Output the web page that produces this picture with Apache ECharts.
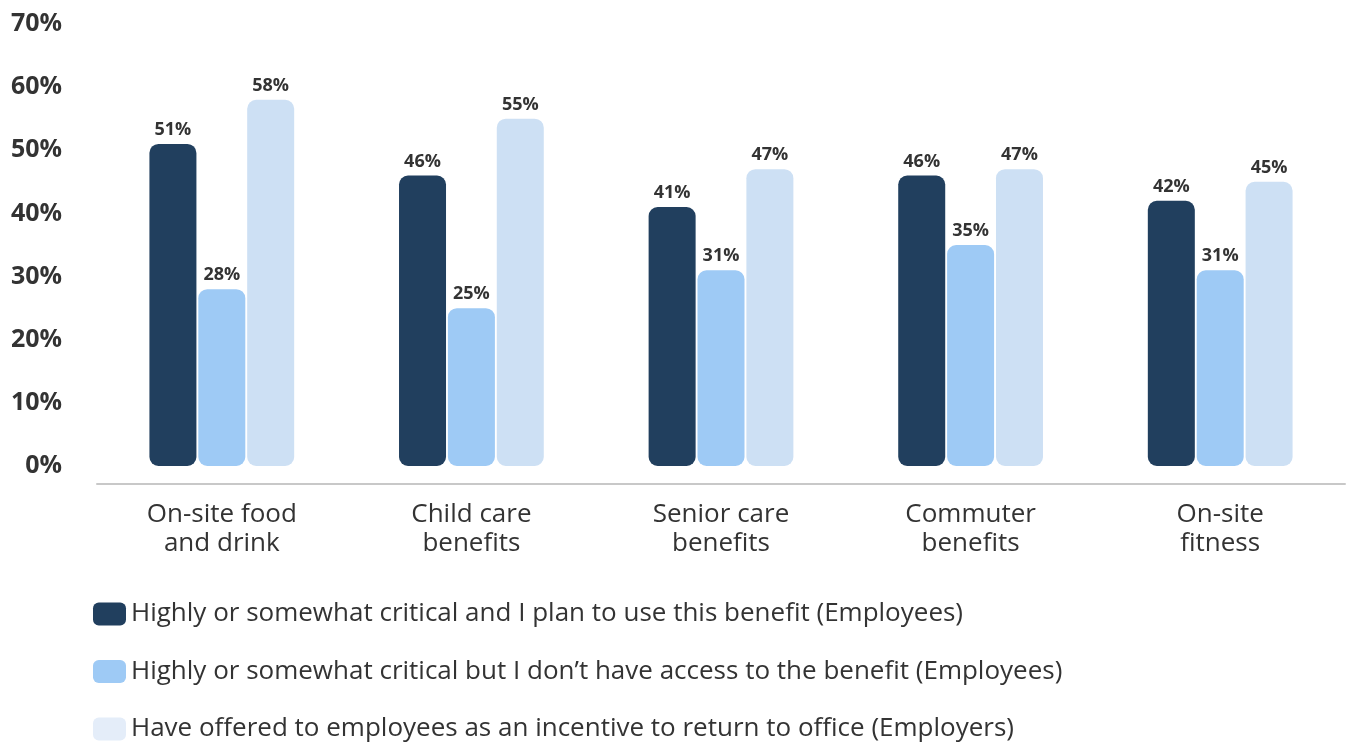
<!DOCTYPE html>
<html>
<head>
<meta charset="utf-8">
<script src="https://cdn.jsdelivr.net/npm/echarts@6/dist/echarts.min.js"></script>
<style>
  html, body { margin: 0; padding: 0; background: #fff; }
  #chart { width: 1353px; height: 742px; }
</style>
</head>
<body>
<div id="chart"></div>
<script>
const categories = ['On-site food\nand drink', 'Child care\nbenefits', 'Senior care\nbenefits', 'Commuter\nbenefits', 'On-site\nfitness']
const seriesNames = [
  'Highly or somewhat critical and I plan to use this benefit (Employees)',
  'Highly or somewhat critical but I don\u2019t have access to the benefit (Employees)',
  'Have offered to employees as an incentive to return to office (Employers)',
]
const planToUse = [51, 46, 41, 46, 42]
const noAccess = [28, 25, 31, 35, 31]
const offeredByEmployers = [58, 55, 47, 47, 45]
const barColors = ['#213f5e', '#9ecaf5', '#cde0f4']
const legendColors = ['#213f5e', '#9ecaf5', '#e4edf9']

const font = '"Open Sans", Lato, sans-serif'
const chart = echarts.init(document.getElementById('chart'))

const makeSeries = (name, data, i) => ({
  name,
  type: 'bar',
  data,
  barWidth: 47,
  barGap: '4%',
  itemStyle: { color: barColors[i], borderRadius: 9 },
  label: {
    show: true,
    position: 'top',
    distance: 5,
    formatter: '{c}%',
    color: '#333',
    fontFamily: font,
    fontWeight: 'bold',
    fontSize: 18,
  },
})

chart.setOption({
  animation: false,
  grid: { left: 97, right: 8, top: 24, bottom: 276 },
  legend: {
    orient: 'vertical',
    left: 93,
    top: 601,
    height: 220,
    padding: 0,
    itemWidth: 33,
    itemHeight: 23,
    itemGap: 31.5,
    icon: 'roundRect',
    textStyle: { color: '#333', fontFamily: font, fontSize: 26, lineHeight: 24 },
    data: seriesNames.map((name, i) => ({ name, itemStyle: { color: legendColors[i] } })),
  },
  xAxis: {
    type: 'category',
    data: categories,
    offset: 18,
    axisLine: { show: true, onZero: false, lineStyle: { color: '#c8c8c8', width: 2 } },
    axisTick: { show: false },
    axisLabel: { color: '#333', fontFamily: font, fontSize: 26, lineHeight: 29, margin: 16 },
  },
  yAxis: {
    type: 'value',
    min: 0,
    max: 70,
    interval: 10,
    splitLine: { show: false },
    axisLine: { show: false },
    axisTick: { show: false },
    axisLabel: {
      formatter: '{value}%',
      color: '#333',
      fontFamily: font,
      fontWeight: 'bold',
      fontSize: 25,
      margin: 35,
    },
  },
  series: [
    makeSeries(seriesNames[0], planToUse, 0),
    makeSeries(seriesNames[1], noAccess, 1),
    makeSeries(seriesNames[2], offeredByEmployers, 2),
  ],
})
</script>
</body>
</html>
